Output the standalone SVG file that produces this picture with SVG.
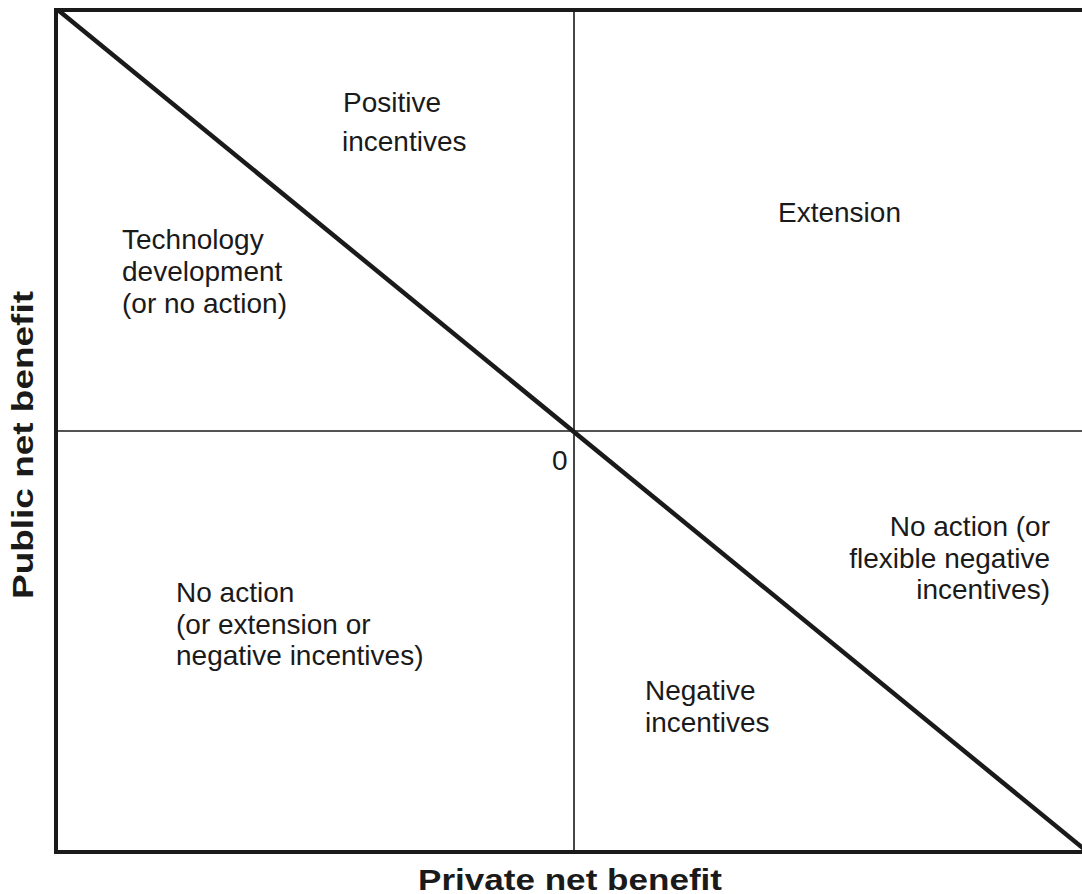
<svg xmlns="http://www.w3.org/2000/svg" width="1082" height="894" viewBox="0 0 1082 894">
<style>
.t{font-family:"Liberation Sans",Arial,Helvetica,sans-serif;font-size:28px;fill:#1a1a1a}
.ax{font-family:"Liberation Sans",Arial,Helvetica,sans-serif;font-size:30px;font-weight:bold;fill:#1a1a1a}
.frame{fill:none;stroke:#1a1a1a;stroke-width:4}
.thin{stroke:#1a1a1a;stroke-width:1.6;fill:none}
.diag{stroke:#1a1a1a;stroke-width:4.5;fill:none}
</style>
<rect width="1082" height="894" fill="#ffffff"/>
<g id="axes">
<path class="frame" d="M1084,10 H56 V852 H1084"/>
<line class="thin" x1="574" y1="10" x2="574" y2="852"/>
<line class="thin" x1="56" y1="431" x2="1082" y2="431"/>
</g>
<g id="connectors">
<line class="diag" x1="58" y1="10" x2="1084" y2="849"/>
</g>
<g id="origin"><text class="t" x="552" y="470">0</text></g>
<g id="positive-incentives">
<text class="t" x="343" y="112">Positive</text>
<text class="t" x="342" y="151">incentives</text>
</g>
<g id="extension"><text class="t" x="778" y="222">Extension</text></g>
<g id="technology-development">
<text class="t" x="122" y="249">Technology</text>
<text class="t" x="122" y="281">development</text>
<text class="t" x="122" y="313">(or no action)</text>
</g>
<g id="no-action-right">
<text class="t" x="1050" y="536" text-anchor="end">No action (or</text>
<text class="t" x="1050" y="568" text-anchor="end">flexible negative</text>
<text class="t" x="1050" y="599" text-anchor="end">incentives)</text>
</g>
<g id="no-action-left">
<text class="t" x="176" y="602">No action</text>
<text class="t" x="176" y="634">(or extension or</text>
<text class="t" x="176" y="665">negative incentives)</text>
</g>
<g id="negative-incentives">
<text class="t" x="645" y="700">Negative</text>
<text class="t" x="645" y="732">incentives</text>
</g>
<g id="axis-labels">
<text class="ax" x="570" y="890" text-anchor="middle" textLength="304" lengthAdjust="spacingAndGlyphs">Private net benefit</text>
<text class="ax" transform="translate(33,445) rotate(-90)" x="0" y="0" text-anchor="middle" textLength="308" lengthAdjust="spacingAndGlyphs">Public net benefit</text>
</g>
</svg>
